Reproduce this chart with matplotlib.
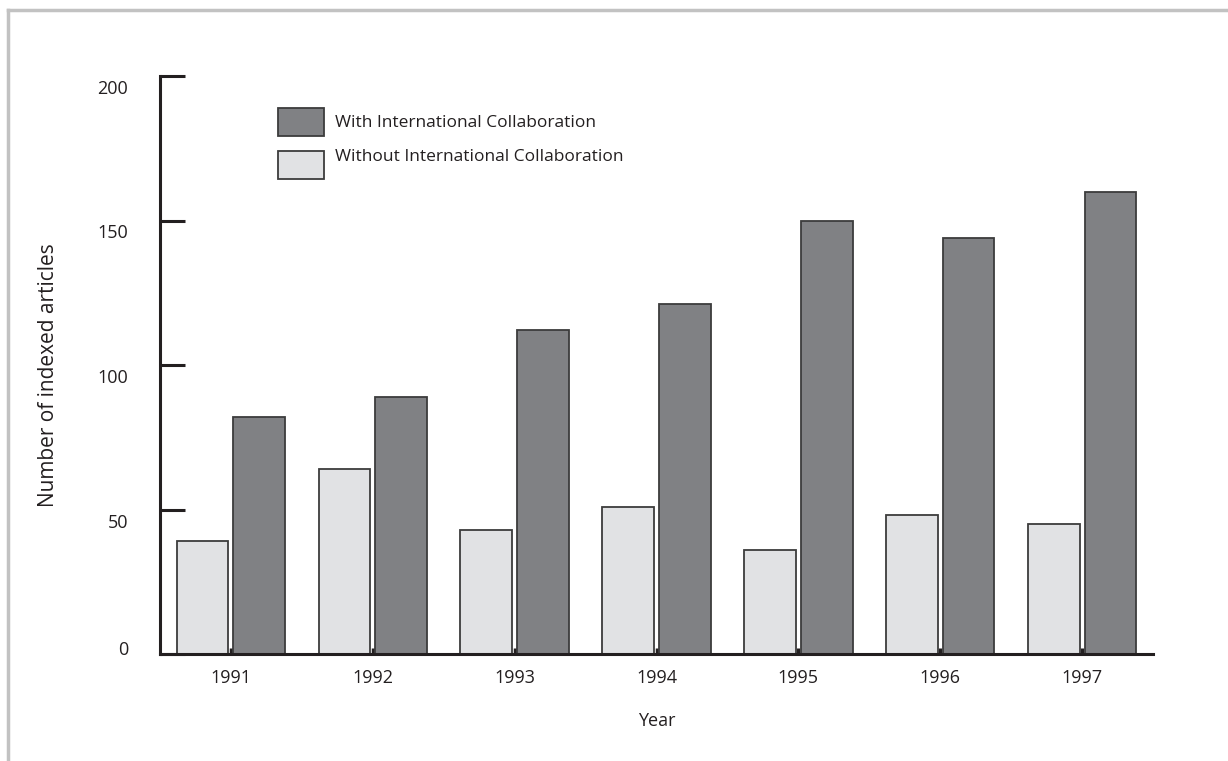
import matplotlib
matplotlib.use("Agg")
import matplotlib.pyplot as plt
import numpy as np
from matplotlib.patches import Rectangle
from matplotlib.lines import Line2D
from matplotlib.transforms import ScaledTranslation

years = ["1991", "1992", "1993", "1994", "1995", "1996", "1997"]
without_collab = [39, 64, 43, 51, 36, 48, 45]
with_collab = [82, 89, 112, 121, 150, 144, 160]
y_ticks = [0, 50, 100, 150, 200]

DARK = "#808184"
LIGHT = "#e1e2e4"
EDGE = "#3c3c3c"
INK = "#231f20"

plt.rcParams["font.family"] = ["Open Sans", "DejaVu Sans"]

W, H = 1228, 761
fig = plt.figure(figsize=(W / 100, H / 100), dpi=100)
ax = fig.add_axes([160 / W, 1 - 654 / H, (1153 - 160) / W, (654 - 76) / H])

x = np.arange(len(years))
bw = 0.365
ax.bar(x - 0.2, without_collab, bw, color=LIGHT, edgecolor=EDGE, linewidth=1.3, zorder=2)
ax.bar(x + 0.2, with_collab, bw, color=DARK, edgecolor=EDGE, linewidth=1.3, zorder=2)

ax.set_xlim(-0.5, 6.5)
ax.set_ylim(0, 200)
ax.set_xticks(x)
ax.set_xticklabels(years)
ax.set_yticks(y_ticks)

for s in ["top", "right"]:
    ax.spines[s].set_visible(False)
for s in ["left", "bottom"]:
    ax.spines[s].set_linewidth(2.2)
    ax.spines[s].set_color(INK)
    ax.spines[s].set_zorder(3)

ax.tick_params(axis="y", direction="in", length=18, width=2.2, color=INK,
               pad=23, labelsize=13, labelcolor=INK)
ax.tick_params(axis="x", direction="in", length=4, width=2.5, color=INK,
               pad=11, labelsize=13, labelcolor=INK)

# the original's y labels sit a little below their ticks (the 0 sits above)
for lab, v in zip(ax.get_yticklabels(), y_ticks):
    dy = 6 if v == 0 else -11
    lab.set_transform(lab.get_transform() + ScaledTranslation(0, dy / 100, fig.dpi_scale_trans))

ax.set_xlabel("Year", fontsize=13, color=INK)
ax.xaxis.set_label_coords(0.5, -0.101)
ax.set_ylabel("Number of indexed articles", fontsize=15, color=INK)
ax.yaxis.set_label_coords(-0.102, 0.483)

# legend drawn by hand
def fx(px):
    return px / W

def fy(py):
    return 1 - py / H

legend_items = [("With International Collaboration", DARK, 108, 123),
                ("Without International Collaboration", LIGHT, 151, 157)]
for label, col, top, ty in legend_items:
    fig.add_artist(Rectangle((fx(278), fy(top + 28)), fx(46), 28 / H,
                             facecolor=col, edgecolor=EDGE, linewidth=1.3,
                             transform=fig.transFigure))
    fig.text(fx(335), fy(ty), label, fontsize=12.5, color=INK, va="center", ha="left")

# outer frame (top and left only)
fig.add_artist(Line2D([fx(8), 1], [fy(10), fy(10)], color="#c2c2c2", linewidth=2.5,
                      transform=fig.transFigure))
fig.add_artist(Line2D([fx(8), fx(8)], [0, fy(10)], color="#c2c2c2", linewidth=2.5,
                      transform=fig.transFigure))

fig.savefig("out.png", dpi=100)
